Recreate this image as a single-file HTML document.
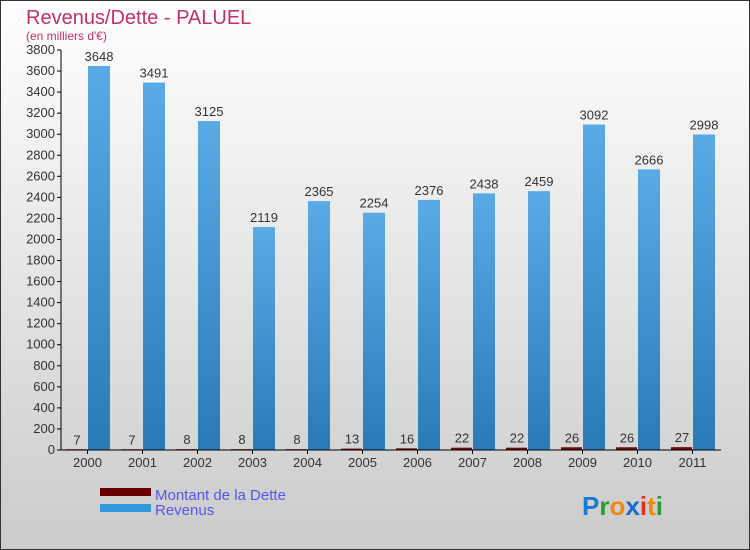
<!DOCTYPE html>
<html><head><meta charset="utf-8"><style>
body{margin:0;}
#c{width:750px;height:550px;position:relative;background:linear-gradient(#fff,#cbcbcb);box-sizing:border-box;border:1px solid #333;font-family:"Liberation Sans",sans-serif;}
svg text{font-family:"Liberation Sans",sans-serif;}
</style></head><body>
<div id="c">
<svg id="s" width="750" height="550" style="position:absolute;left:-1px;top:-1px">
<defs><linearGradient id="rg" x1="0" y1="0" x2="0" y2="1"><stop offset="0" stop-color="#5aaae6"/><stop offset="1" stop-color="#2a7ab8"/></linearGradient></defs>
<text x="26" y="24" font-size="20" fill="#c0306a">Revenus/Dette - PALUEL</text>
<text x="26" y="40" font-size="12" fill="#c0306a">(en milliers d'€)</text>
<g id="g"></g>
<rect x="100" y="488" width="51" height="8" fill="#660000"/>
<rect x="100" y="504" width="51" height="8" fill="#3399dd"/>
<text x="155" y="500" font-size="15" fill="#5555ee">Montant de la Dette</text>
<text x="155" y="515" font-size="15" fill="#5555ee">Revenus</text>
<text x="582" y="515" font-size="26" font-weight="bold"><tspan fill="#1a7ad4">P</tspan><tspan fill="#2a9a3a">r</tspan><tspan fill="#f08a10">o</tspan><tspan fill="#1a6ad4">x</tspan><tspan fill="#e03020">i</tspan><tspan fill="#f08a10">t</tspan><tspan fill="#2a9a3a">i</tspan></text>
</svg></div>
<script>
const years=["2000","2001","2002","2003","2004","2005","2006","2007","2008","2009","2010","2011"];
const dette=[7,7,8,8,8,13,16,22,22,26,26,27];
const revenus=[3648,3491,3125,2119,2365,2254,2376,2438,2459,3092,2666,2998];
const yTicks=[0,200,400,600,800,1000,1200,1400,1600,1800,2000,2200,2400,2600,2800,3000,3200,3400,3600,3800];
const NS="http://www.w3.org/2000/svg",g=document.getElementById('g');
const x0=61,band=55,yMax=3800,y0=450,h=400;
const y=v=>y0-v/yMax*h;
function mk(t,a,txt){const e=document.createElementNS(NS,t);for(const k in a)e.setAttribute(k,a[k]);if(txt!=null)e.textContent=txt;g.appendChild(e);return e;}
yTicks.forEach(v=>{
 const l=mk('line',{x1:x0-4,x2:x0,y1:y(v),y2:y(v),stroke:'#000'});
 
 
 const t=mk('text',{x:x0-6,y:y(v)+4,'font-size':13,'text-anchor':'end',fill:'#333'},v);
 
 
});
years.forEach((yr,i)=>{
 const bx=x0+i*band;
 const d=mk('rect',{x:bx+5,y:y(dette[i]),width:21,height:y0-y(dette[i]),fill:'#6b0a0a'});
 
 
 const r=mk('rect',{x:bx+27,y:y(revenus[i]),width:22,height:y0-y(revenus[i]),fill:'url(#rg)'});
 
 
 const dl=mk('text',{x:bx+16,y:y(dette[i])-5,'font-size':13,'text-anchor':'middle',fill:'#333'},dette[i]);
 
 
 const rl=mk('text',{x:bx+38,y:y(revenus[i])-5,'font-size':13,'text-anchor':'middle',fill:'#333'},revenus[i]);
 
 
 const tk=mk('line',{x1:bx+26.5,x2:bx+26.5,y1:y0,y2:y0+4,stroke:'#000'});
 
 
 const xl=mk('text',{x:bx+26.5,y:y0+17,'font-size':13,'text-anchor':'middle',fill:'#333'},yr);
 
 
});
const ya=mk('line',{x1:x0,x2:x0,y1:y(yMax),y2:y0,stroke:'#000'});


const xa=mk('line',{x1:x0,x2:x0+band*12,y1:y0,y2:y0,stroke:'#000'});


</script>
</body></html>
